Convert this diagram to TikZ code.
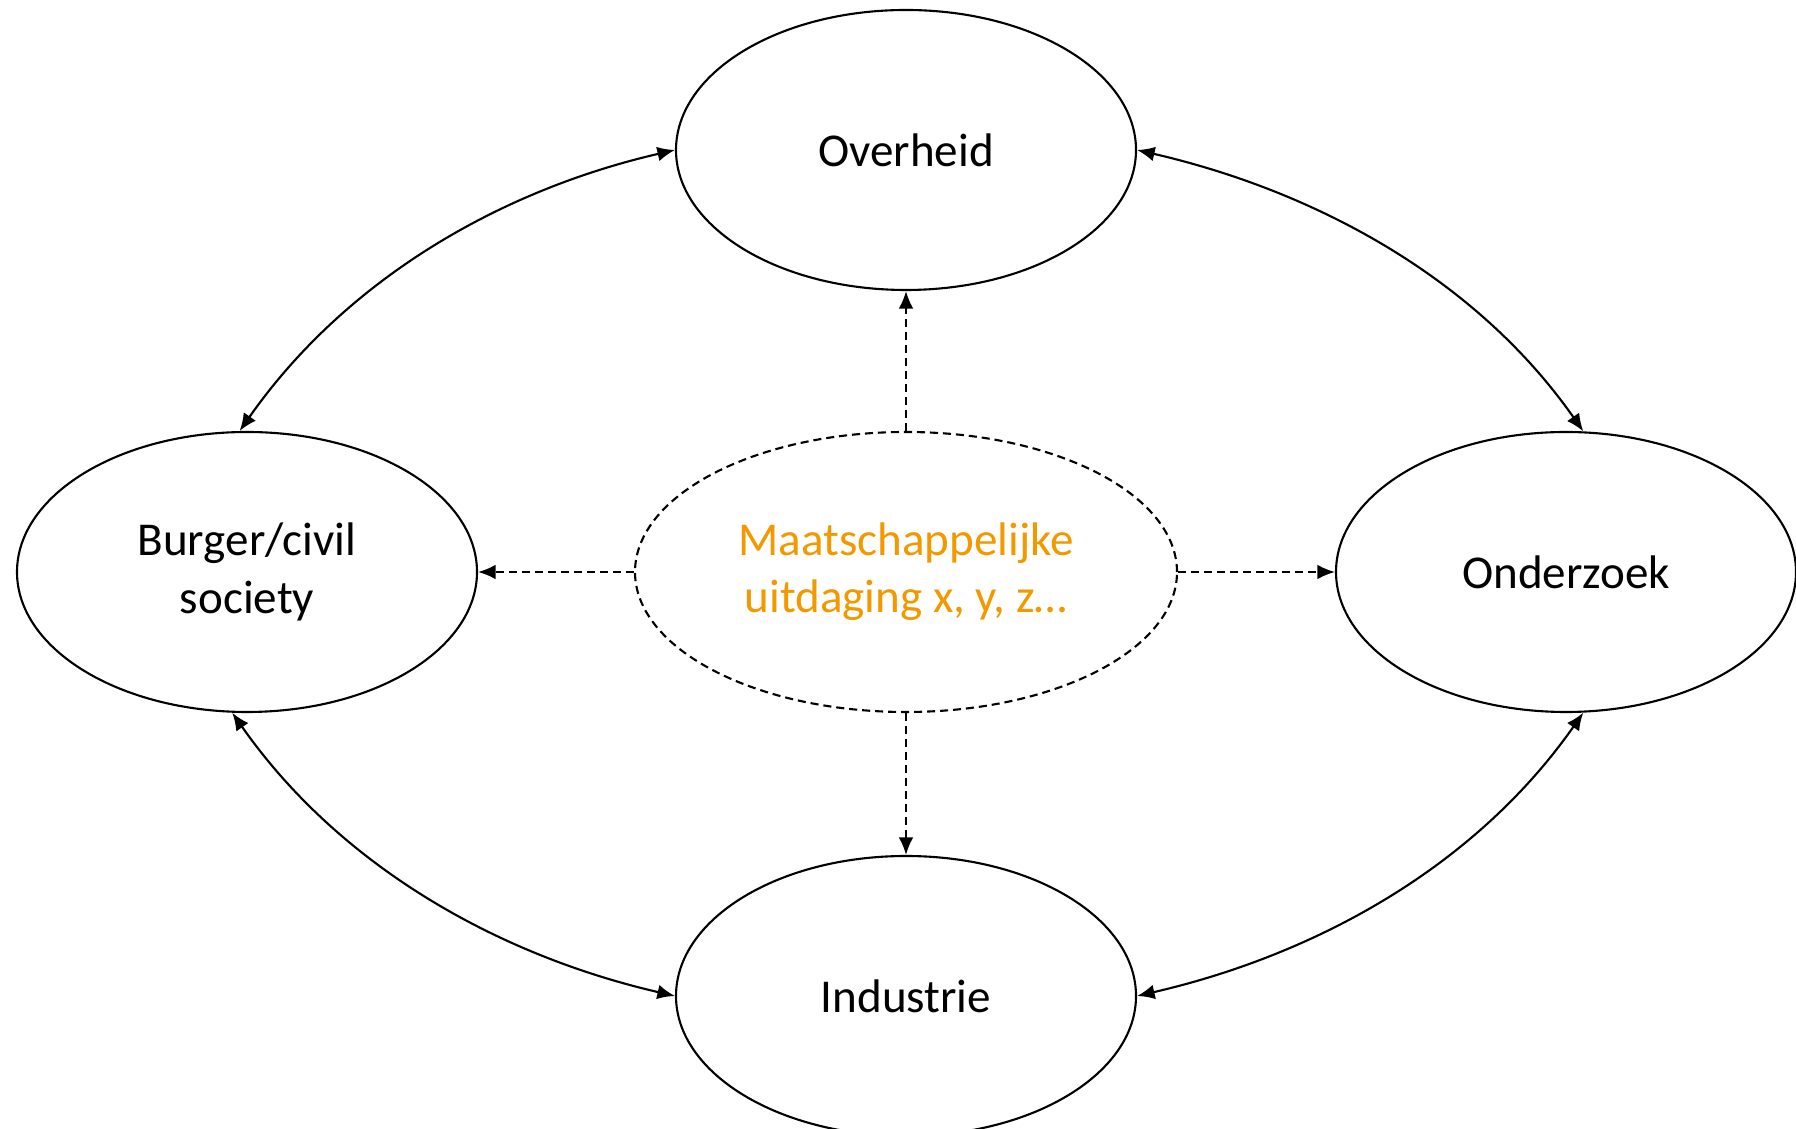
\documentclass[tikz,border=0pt]{standalone}
\usepackage{fontspec}
\setmainfont{Carlito}
\usetikzlibrary{arrows.meta,shapes.geometric}
\definecolor{maatorange}{RGB}{242,153,0}
\begin{document}
\begin{tikzpicture}[>={Latex[length=5pt,width=4.2pt]},
  actor/.style={draw, line width=.6pt, ellipse, minimum width=4.6cm, minimum height=2.8cm,
    inner sep=0pt, align=center, font=\fontsize{13.4}{16.3}\selectfont},
  challenge/.style={actor, dash pattern=on 2.3pt off 1.4pt, minimum width=5.42cm, text=maatorange},
  link/.style={<->, line width=.6pt, looseness=.9},
  push/.style={->, line width=.6pt, dash pattern=on 2.3pt off 1.4pt}]
\useasboundingbox (0,0) rectangle (17.96,11.29);

\node [actor] (over) at (9.06,9.79) {Overheid};
\node [actor] (burger) at (2.47,5.57) {Burger/civil\\society};
\node [actor] (onder) at (15.66,5.57) {Onderzoek};
\node [actor] (indus) at (9.06,1.33) {Industrie};
\node [challenge] (maat) at (9.06,5.57) {Maatschappelijke\\uitdaging x, y, z…};

% kring rond de uitdaging
\draw [link] (over.west) to [out=193,in=55] (burger.93);
\draw [link] (over.east) to [out=-13,in=125] (onder.83);
\draw [link] (burger.264) to [out=-55,in=167] (indus.west);
\draw [link] (onder.277) to [out=235,in=13] (indus.east);

\draw [push] (maat.north) -- (over.south);
\draw [push] (maat.west) -- (burger.east);
\draw [push] (maat.east) -- (onder.west);
\draw [push] (maat.south) -- (indus.north);
\end{tikzpicture}
\end{document}
